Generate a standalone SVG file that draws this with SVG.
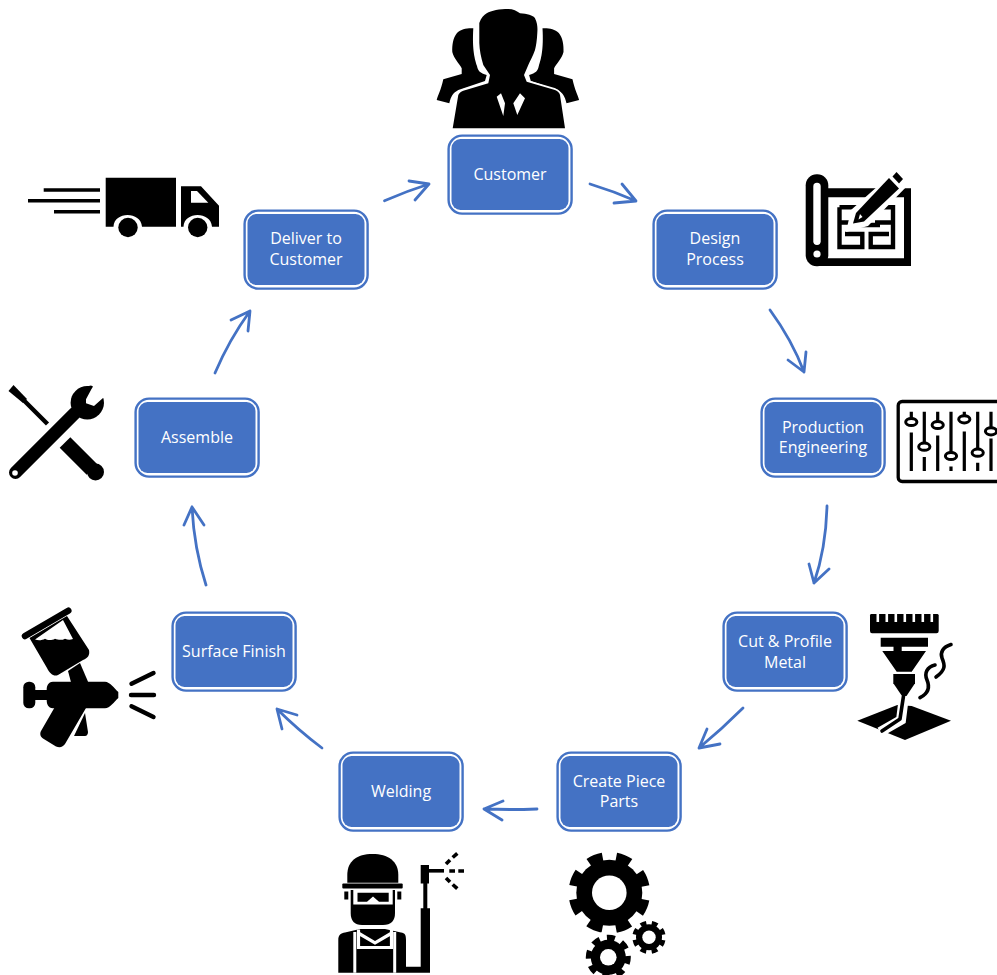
<svg xmlns="http://www.w3.org/2000/svg" xmlns:xlink="http://www.w3.org/1999/xlink" width="997" height="975" viewBox="0 0 997 975">
<style>
text{font-family:"Open Sans","Noto Sans","Liberation Sans",sans-serif;font-size:16px;fill:#fff;text-anchor:middle}
.c{fill:none;stroke:#4472c4;stroke-width:2.8;stroke-linecap:round;stroke-linejoin:round}
.k{fill:#000}
.w{fill:#fff}
.s{fill:none;stroke:#000;stroke-linecap:round;stroke-linejoin:round}
.b{fill:none;stroke:#000;stroke-linecap:butt;stroke-linejoin:miter}
</style>
<defs>
<g id="box">
<rect x="0.6" y="0.6" width="123" height="78" rx="13.5" fill="#fff" stroke="#4472c4" stroke-width="2.4"/>
<rect x="3.5" y="4" width="117" height="71" rx="9" fill="#4472c4"/>
</g>
<path id="backperson" class="k" d="M473.3 28.3C467 28 461 29 457 33C453 38 452 45 452.3 52C454 59 459 63 461.7 68.3L461.7 74L443.3 79.3C441 90 438 95 436.7 100L449.3 103.3C451 96 453 93 458.3 90L485 81L486.7 75C480 73 478 71 477 66C475 60 472 50 473.3 28.3Z"/>
<g id="knob"><ellipse cx="0" cy="0" rx="5.6" ry="3.6" fill="#fff" stroke="#000" stroke-width="3"/></g>
</defs>
<rect width="997" height="975" fill="#fff"/>
<g id="connectors">
<path class="c" d="M384.5 200.7Q407 191 429 184M409 181L429 184L415 200"/>
<path class="c" d="M590 184Q613 191 636 201M622 184L636 201L614 203"/>
<path class="c" d="M770 310Q792 340 804 372M806 352L804 372L788 360"/>
<path class="c" d="M827 506Q826 548 814 583M809 564L814 583L829 569"/>
<path class="c" d="M743 708Q722 729 699 748M707 729L699 748L720 744"/>
<path class="c" d="M537 809Q510 810 484 809M503 801L484 809L502 820"/>
<path class="c" d="M322 748Q298 730 277 709M297 715L277 709L282 729"/>
<path class="c" d="M206 585Q194 548 192 507M184 525L192 507L204 525"/>
<path class="c" d="M215 373Q229 340 250 311M231 320L250 311L248 331"/>
</g>
<g id="customer">
<use href="#backperson" xlink:href="#backperson"/>
<use href="#backperson" xlink:href="#backperson" transform="translate(1015.8 0) scale(-1 1)"/>
<path class="k" stroke="#fff" stroke-width="3.4" paint-order="stroke" stroke-linejoin="round" d="M508.3 9C513 9 517 11 520 13.3C527 14 533 15 535 18.3C538 24 537.5 30 537.3 33C537 40 536 46 535 50C533 56 530 61 528.3 65L524 75L526.7 81.7L555 90C558 91 559.5 93 560 95L565 128.3L452.7 128.3L458.3 95C459 93 461 91.5 463.3 90.7L488.3 83.3L490 75L483.3 65C481 57 479.5 50 479.3 43L479.3 23C481 18 484 15 486.7 13.3C491 10.5 500 9 508.3 9Z"/>
<path class="w" d="M496.7 96.7L501 93.3L505 103.3L503.3 116ZM520 93.3L525 98.3L517.3 115L513.3 103.3Z"/>
<use href="#box" xlink:href="#box" x="448" y="135"/>
<text x="510" y="180">Customer</text>
</g>
<g id="design">
<use href="#box" xlink:href="#box" x="653" y="210"/>
<text x="715" y="244">Design</text><text x="715" y="265">Process</text>
<rect class="k" x="805.7" y="174.3" width="22.6" height="92" rx="11"/>
<rect class="w" x="813.3" y="182.7" width="7.4" height="62.3" rx="3.7"/>
<circle class="w" cx="817" cy="254" r="3.6"/>
<path class="k" d="M824 188.3H911V266H817V258.3H904V197.3H824Z"/>
<path class="b" stroke-width="4.4" d="M839.5 207.2H893V247H870.7V234H889M839.5 207.2V247H862.3V234H845M839.5 222.5H851M875 222.5H893M852 225H880"/>
<path d="M897 169L912 181L868 226L846 232L851 210Z" fill="#fff"/>
<path class="k" d="M889 178L899 188.5L864 221.5L853 223.5L856 213Z"/>
<path class="k" d="M892.5 176.5L896.5 172L903 179L899 183.5Z"/>
<path class="w" d="M860 214L862.5 217L858.5 219.5Z"/>
</g>
<g id="production">
<use href="#box" xlink:href="#box" x="761" y="398"/>
<text x="823" y="433">Production</text><text x="823" y="453">Engineering</text>
<rect x="898.2" y="401.5" width="110" height="80" rx="4" fill="none" stroke="#000" stroke-width="3.3"/>
<path class="b" stroke-width="3.2" d="M911.3 411.7V422M911.3 432.5V471M924.3 411.7V446.7M924.3 457V471M937.7 411.7V425M937.7 435.5V471M951 411.7V456M951 466.5V471M964.3 411.7V419.3M964.3 431.5V471M977.7 411.7V452.7M977.7 462.7V471M991 411.7V431.3M991 438.5V471"/>
<use href="#knob" xlink:href="#knob" x="911.3" y="422"/>
<use href="#knob" xlink:href="#knob" x="924.3" y="446.7"/>
<use href="#knob" xlink:href="#knob" x="937.7" y="425"/>
<use href="#knob" xlink:href="#knob" x="951" y="456"/>
<use href="#knob" xlink:href="#knob" x="964.3" y="419.3"/>
<use href="#knob" xlink:href="#knob" x="977.7" y="452.7"/>
<use href="#knob" xlink:href="#knob" x="991" y="431.3"/>
</g>
<g id="cut-profile">
<use href="#box" xlink:href="#box" x="723" y="612"/>
<text x="785" y="647">Cut &amp; Profile</text><text x="785" y="668">Metal</text>
<path class="k" d="M871 614H937.5Q938.7 614 938.7 615.5V631Q938.7 633.3 936.5 633.3H872Q870 633.3 870 631V615.5Q870 614 871 614Z"/>
<path class="w" d="M876.5 614h2.6v8h-2.6zM885.5 614h2.6v8h-2.6zM894.5 614h2.6v8h-2.6zM903.5 614h2.6v8h-2.6zM912.5 614h2.6v8h-2.6zM921.5 614h2.6v8h-2.6zM930.5 614h2.6v8h-2.6z"/>
<path class="k" d="M880.7 637.7H928V646.7H901.7V651H926L911.7 671.7H896.7L882.3 651H893.5V646.7H880.7Z"/>
<path class="k" d="M893.3 674H915V683.3L906.5 696H902L893.3 683.3Z"/>
<path class="s" stroke-width="3.6" d="M951 644.5C943 647 940 652 942 658C945 665 946 670 936 677"/>
<path class="s" stroke-width="3.6" d="M935 665C927 667 924 673 927 680C930 687 929 693 920 697.7"/>
<path class="k" d="M897.3 705L857.3 720.7L905 740L951 720.7L911.7 706Z"/>
<path d="M904 696L901 720L880 732" fill="none" stroke="#fff" stroke-width="10"/>
<path class="s" stroke-width="3.6" d="M903.5 696L900 719L882 731"/>
</g>
<g id="create-parts">
<use href="#box" xlink:href="#box" x="557" y="752"/>
<text x="619" y="786.5">Create Piece</text><text x="619" y="807">Parts</text>
<circle class="k" cx="609.3" cy="892.7" r="33"/>
<circle cx="609.3" cy="892.7" r="35.5" fill="none" stroke="#000" stroke-width="10.5" pathLength="8" stroke-dasharray="0.52 0.48" transform="rotate(11 609.3 892.7)"/>
<circle class="w" cx="609.3" cy="892.7" r="17.3"/>
<circle class="w" cx="608.3" cy="957.3" r="26"/>
<circle class="w" cx="649" cy="937.3" r="19.5"/>
<circle class="k" cx="608.3" cy="957.3" r="17.5"/>
<circle cx="608.3" cy="957.3" r="19.5" fill="none" stroke="#000" stroke-width="6" pathLength="8" stroke-dasharray="0.52 0.48" transform="rotate(-4 608.3 957.3)"/>
<circle class="w" cx="608.3" cy="957.3" r="8.3"/>
<circle class="k" cx="649" cy="937.3" r="13"/>
<circle cx="649" cy="937.3" r="14.5" fill="none" stroke="#000" stroke-width="4.4" pathLength="8" stroke-dasharray="0.52 0.48" transform="rotate(11 649 937.3)"/>
<circle class="w" cx="649" cy="937.3" r="6.7"/>
</g>
<g id="welding">
<use href="#box" xlink:href="#box" x="339" y="752"/>
<text x="401" y="797">Welding</text>
<path class="k" d="M347.3 882.7V875C347.3 861 357 854 372.5 854C388 854 398.3 861 398.3 875V882.7Z"/>
<rect class="k" x="342.3" y="883.5" width="60.4" height="5" rx="1"/>
<path class="k" d="M350.7 890H395V913Q395 925 383 925H362Q350.7 925 350.7 913Z"/>
<rect class="k" x="344.3" y="891.5" width="4" height="8"/>
<rect class="k" x="397.3" y="891.5" width="4" height="8"/>
<path class="w" d="M353.3 890H392.7V904.5H353.3Z"/>
<path class="k" d="M357.5 892.8H388.7V901.7H379L373 896.5L367 901.7H357.5Z"/>
<path class="k" d="M338.3 972.7V940C338.3 935 341 933 345 932.5L360 929H385L401 932.5C405 933 406 935 406 940V972.7Z"/>
<path d="M354.8 932V972.7M394.7 932V972.7" fill="none" stroke="#fff" stroke-width="3"/>
<path d="M358.5 929.5V947.5H391.5V929.5M359 933.5L375 943L391 933.5" fill="none" stroke="#fff" stroke-width="3.2"/>
<path class="k" d="M406 966.7H420.7V908.3H430V972.7H406Z"/>
<rect class="k" x="423.3" y="883" width="4" height="26"/>
<rect class="k" x="420.7" y="865" width="8.3" height="18.5"/>
<rect class="k" x="429" y="869" width="15" height="3.6"/>
<path class="b" stroke-width="3.6" d="M446 864L450 860M452.7 857.5L457.3 853.3M449.3 871H455M458.3 871H464M446 878L450 882M452.7 884.5L457.3 888.7"/>
</g>
<g id="surface-finish">
<use href="#box" xlink:href="#box" x="172" y="612"/>
<text x="234" y="657">Surface Finish</text>
<path class="k" d="M29.5 638L67 616L89 650C90 655 88 658 83 660L58 675C54 677 50 674 47 668Z"/>
<path class="w" d="M35 639.5L63 620L73 639C70 640 68 640 65 638.7C62 640.5 58 640 55 638.7C51 641 47 640 45 638.7C42 640.5 38 640.5 35 639.5Z"/>
<path class="s" stroke-width="6.5" d="M25 636L68.3 610.7"/>
<path class="k" d="M68 671L80 663L89 684L72 686Z"/>
<path class="k" d="M53 681.7H105C110 682 114 688 118.3 692V698C114 702 110 708 105 708.3H53C48 708 46.7 704 46.7 700V690C46.7 686 48 682 53 681.7Z"/>
<rect class="k" x="23.3" y="681.7" width="12" height="26.6" rx="5.5"/>
<rect class="k" x="33" y="690" width="16" height="10"/>
<path class="k" d="M55 706.7L41 731C39.5 734 40.5 737 43 738.5L56 746.5C60 748 63 747 65 744L86.7 706.7Z"/>
<path class="k" d="M85 713L74 736H85C87 736 88 734 88 732Z"/>
<path class="s" stroke-width="4.4" d="M131.5 683.8L153.5 673M131 695H154M131.5 706.3L153.5 717"/>
</g>
<g id="assemble">
<use href="#box" xlink:href="#box" x="135" y="398"/>
<text x="197" y="443">Assemble</text>
<path class="k" d="M8.5 391L13.5 385L27 399L23 403Z"/>
<path class="b" stroke-width="4.4" d="M23 399.5L47.5 424"/>
<path class="b" stroke-width="15" d="M65 442.5L92 469.5"/>
<circle class="k" cx="95.5" cy="472" r="8.5"/>
<path class="s" stroke-width="13" d="M15.5 472.5L75 413"/>
<circle class="k" cx="87.3" cy="402.7" r="16.7"/>
<path class="w" d="M86 399.3L92.7 386.7L106 380L112 396L102.7 398.3L94 406L86 403.3Z"/>
<path class="k" d="M86.5 386.5L91 385.5L93 386.5L88 392Z"/>
<circle class="w" cx="15" cy="473" r="2.8"/>
</g>
<g id="deliver">
<use href="#box" xlink:href="#box" x="244" y="210"/>
<text x="306" y="244">Deliver to</text><text x="306" y="265">Customer</text>
<path class="b" stroke-width="3.4" d="M43.7 190H100M28 200.7H100M54 211.7H100"/>
<path class="k" d="M105.7 177.7H176V226.7H142C141 211 114 211 113.5 226.7H105.7Z"/>
<path class="k" d="M181 186.3H201L219 205.7V226.7H212C211 211 184 211 183.5 226.7H181Z"/>
<path class="w" d="M191 191H197L208.3 202.7H191Z"/>
<circle class="k" cx="128" cy="227.5" r="9.7"/>
<circle class="k" cx="197.7" cy="227.5" r="9.7"/>
</g>
</svg>
